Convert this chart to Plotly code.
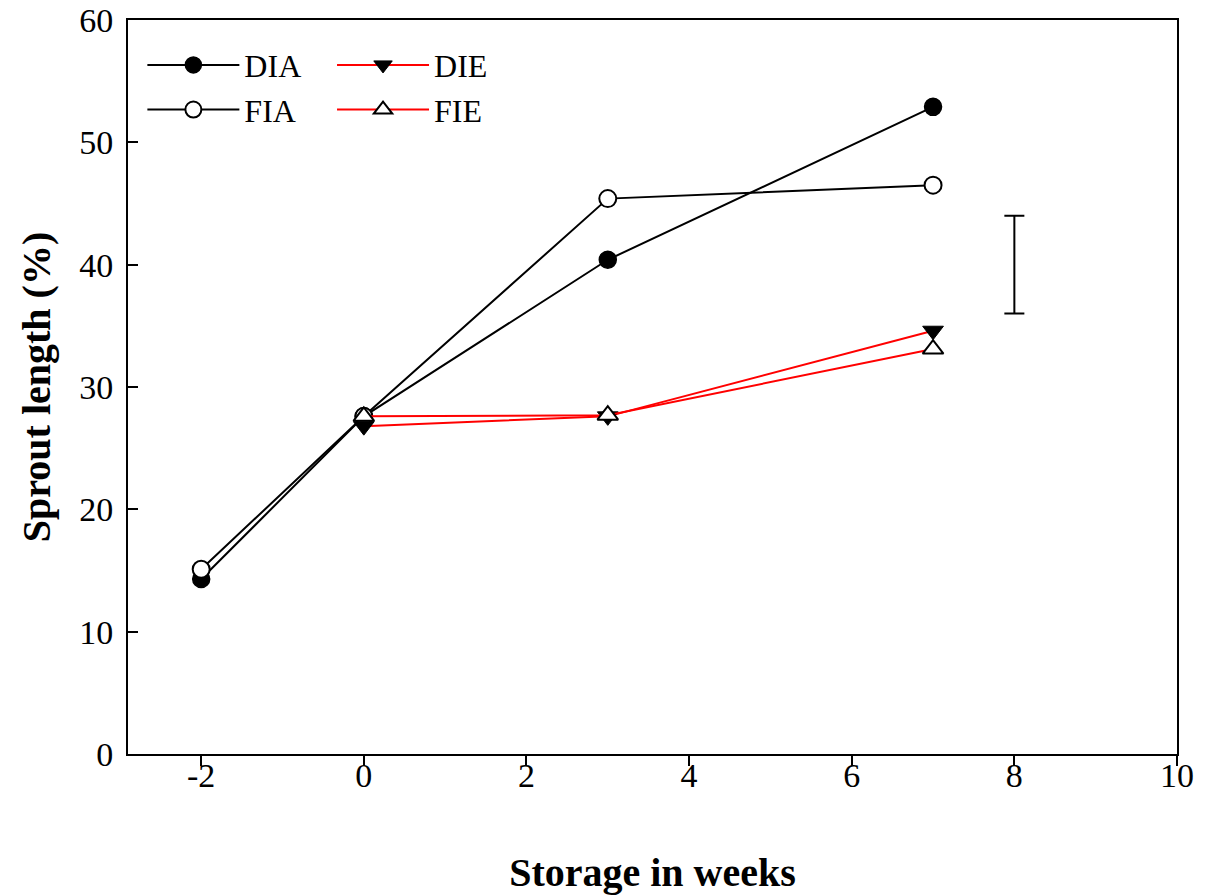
import plotly.graph_objects as go

weeks_a = [-2, 0, 3, 7]
dia = [14.3, 27.6, 40.4, 52.9]
fia = [15.1, 27.6, 45.4, 46.5]
weeks_e = [0, 3, 7]
die = [26.8, 27.6, 34.6]
fie = [27.6, 27.7, 33.1]
err_x = [8]
err_center = [40]
err_half = [4]
x_ticks = [-2, 0, 2, 4, 6, 8, 10]
x_ticktext = ["-2", "0", "2", "4", "6", "8", "10"]
y_ticks = [0, 10, 20, 30, 40, 50, 60]

FONT = "Liberation Serif, Times New Roman, serif"

fig = go.Figure()
fig.add_trace(go.Scatter(x=weeks_a, y=dia, name="DIA", mode="lines+markers",
                         line=dict(color="black", width=2),
                         marker=dict(symbol="circle", size=17, color="black",
                                     line=dict(color="black", width=1.5)),
                         legend="legend"))
fig.add_trace(go.Scatter(x=weeks_a, y=fia, name="FIA", mode="lines+markers",
                         line=dict(color="black", width=2),
                         marker=dict(symbol="circle", size=17, color="white",
                                     line=dict(color="black", width=2)),
                         legend="legend"))
fig.add_trace(go.Scatter(x=weeks_e, y=die, name="DIE", mode="lines+markers",
                         line=dict(color="red", width=2),
                         marker=dict(symbol="triangle-down", size=18, color="black",
                                     line=dict(color="black", width=1)),
                         legend="legend2"))
fig.add_trace(go.Scatter(x=weeks_e, y=fie, name="FIE", mode="lines+markers",
                         line=dict(color="red", width=2),
                         marker=dict(symbol="triangle-up", size=18, color="white",
                                     line=dict(color="black", width=2)),
                         legend="legend2"))
fig.add_trace(go.Scatter(x=err_x, y=err_center, mode="markers", showlegend=False,
                         marker=dict(size=1, color="rgba(0,0,0,0)"),
                         error_y=dict(type="data", array=err_half, color="black",
                                      thickness=2, width=10)))

legend_common = dict(font=dict(family=FONT, size=32, color="black"),
                     bgcolor="rgba(0,0,0,0)", tracegroupgap=0,
                     itemwidth=92, xanchor="left", yanchor="top")
fig.update_layout(
    width=1208, height=895,
    margin=dict(l=128, r=31, t=20, b=141),
    paper_bgcolor="white", plot_bgcolor="white",
    font=dict(family=FONT, size=34, color="black"),
    legend=dict(x=0.0137, y=0.976, **legend_common),
    legend2=dict(x=0.1945, y=0.976, **legend_common),
    xaxis=dict(range=[-2.9, 10], tickvals=x_ticks, ticktext=x_ticktext,
               ticks="outside", ticklen=10, tickwidth=2, tickcolor="black",
               showline=True, linecolor="black", linewidth=2, mirror=True,
               showgrid=False, zeroline=False, automargin=False,
               ticklabelstandoff=-20,
               tickfont=dict(family=FONT, size=34),
               title=dict(text="<b>Storage in weeks</b>", standoff=70,
                          font=dict(family=FONT, size=40))),
    yaxis=dict(range=[0, 60], tickvals=y_ticks,
               ticks="inside", ticklen=10, tickwidth=2, tickcolor="black",
               showline=True, linecolor="black", linewidth=2, mirror=True,
               showgrid=False, zeroline=False, automargin=False,
               ticklabelstandoff=6,
               tickfont=dict(family=FONT, size=34),
               title=dict(text="<b>Sprout length (%)</b>", standoff=16,
                          font=dict(family=FONT, size=40))),
)

fig.write_html("out.html")
